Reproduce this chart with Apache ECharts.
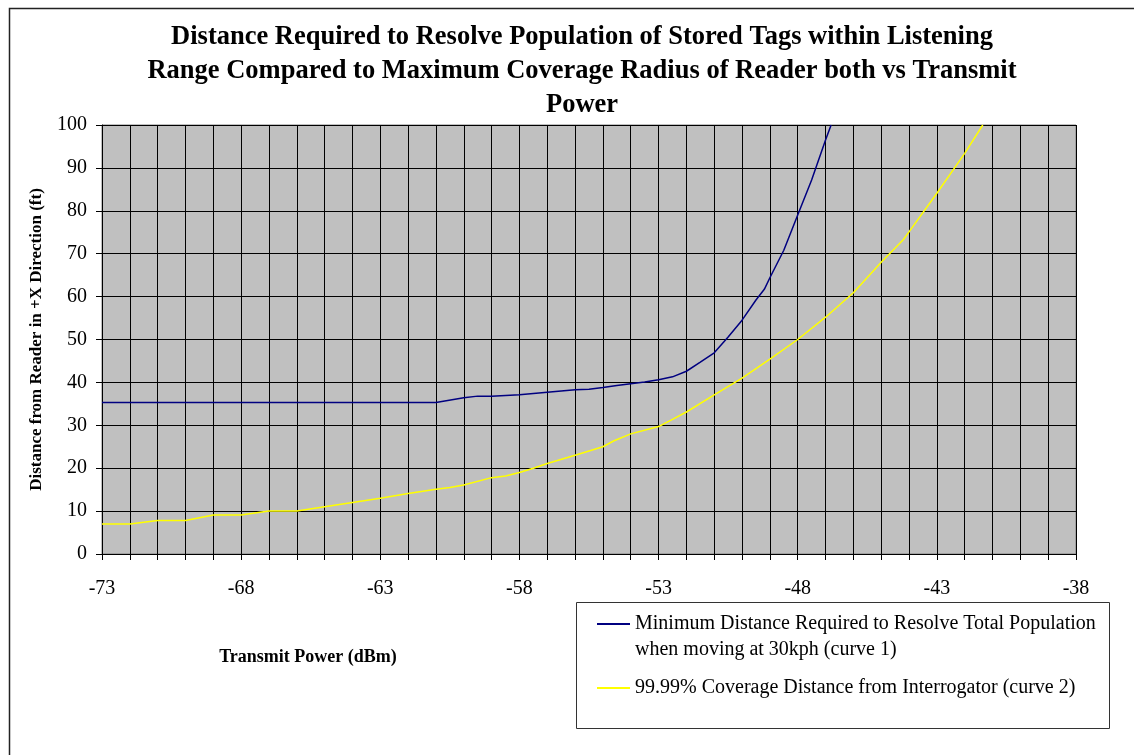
<!DOCTYPE html>
<html>
<head>
<meta charset="utf-8">
<script src="https://cdn.jsdelivr.net/npm/echarts@6/dist/echarts.min.js"></script>
<style>html,body{margin:0;padding:0;background:#fff}#c{width:1134px;height:755px}</style>
</head>
<body>
<div id="c"></div>
<script>
// Curve 1: Minimum distance required (x = transmit power dBm, y = ft)
const curve1X = [-73, -61, -60, -59.5, -59, -58, -57, -56, -55.5, -55, -54.5, -54, -53.5, -53, -52.5, -52, -51.5, -51, -50.5, -50, -49.5, -49.2, -49, -48.5, -48, -47.5, -47, -46.8];
const curve1Y = [35.3, 35.3, 36.4, 36.8, 36.8, 37.1, 37.7, 38.3, 38.4, 38.8, 39.3, 39.7, 40.1, 40.6, 41.3, 42.6, 44.7, 46.9, 50.6, 54.5, 59.2, 61.7, 64.4, 70.8, 79, 87.2, 96.5, 100];
// Curve 2: 99.99% coverage distance
const curve2X = [-73, -72, -71, -70, -69, -68, -67, -66, -65, -64, -63, -62, -61, -60.5, -60, -59, -58.5, -58, -57.5, -57, -56, -55, -54.6, -54, -53, -52.5, -52, -51, -50, -49, -48, -47, -46, -45, -44.2, -44, -43, -42, -41.35];
const curve2Y = [7, 7, 7.8, 7.8, 9.1, 9.1, 10, 10, 11, 12, 13, 14.1, 15.1, 15.5, 16.1, 17.8, 18.2, 19, 20, 21.1, 23, 25, 26.4, 28, 29.7, 31.4, 33.1, 37.1, 41, 45.4, 50, 55.2, 60.9, 68, 73.3, 75.1, 84.1, 93.4, 100];
const seriesNames = ['Minimum Distance Required to Resolve Total Population when moving at 30kph (curve 1)', '99.99% Coverage Distance from Interrogator (curve 2)'];
const xTickLabels = [-73, -68, -63, -58, -53, -48, -43, -38];
const yTickLabels = [0, 10, 20, 30, 40, 50, 60, 70, 80, 90, 100];

const serif = 'Liberation Serif, Times New Roman, serif';
const chart = echarts.init(document.getElementById('c'), null, {renderer: 'canvas'});
const pair = (xs, ys) => xs.map((x, i) => [x, ys[i]]);

chart.setOption({
  animation: false,
  backgroundColor: '#ffffff',
  title: {
    text: 'Distance Required to Resolve Population of Stored Tags within Listening\nRange Compared to Maximum Coverage Radius of Reader both vs Transmit\nPower',
    left: 577, top: 15, textAlign: 'center',
    textStyle: {fontFamily: serif, fontWeight: 'bold', fontSize: 26.5, lineHeight: 34, color: '#000'}
  },
  grid: {
    left: 102, right: 58, top: 125, bottom: 201,
    show: true, backgroundColor: '#c0c0c0', borderColor: '#808080', borderWidth: 1
  },
  xAxis: {
    type: 'value', min: -73, max: -38, interval: 1,
    axisLine: {onZero: false, lineStyle: {color: '#000', width: 1}},
    axisTick: {show: true, length: 6, lineStyle: {color: '#000'}},
    axisLabel: {
      margin: 25, fontFamily: serif, fontSize: 20, color: '#000',
      formatter: v => xTickLabels.indexOf(Math.round(v)) >= 0 ? String(Math.round(v)) : ''
    },
    splitLine: {show: true, lineStyle: {color: '#000', width: 1}}
  },
  yAxis: {
    type: 'value', min: 0, max: 100, interval: 10,
    name: 'Distance from Reader in +X Direction (ft)',
    nameLocation: 'middle', nameGap: 57, nameRotate: 90,
    nameTextStyle: {fontFamily: serif, fontWeight: 'bold', fontSize: 17, color: '#000'},
    axisLine: {show: true, lineStyle: {color: '#000', width: 1}},
    axisTick: {show: true, length: 6, lineStyle: {color: '#000'}},
    axisLabel: {
      margin: 15, fontFamily: serif, fontSize: 20, color: '#000',
      formatter: v => yTickLabels.indexOf(v) >= 0 ? String(v) : ''
    },
    splitLine: {show: true, lineStyle: {color: '#000', width: 1}}
  },
  legend: {
    orient: 'vertical', left: 596, top: 585, padding: 0, itemGap: 12,
    itemWidth: 33, itemHeight: 14,
    itemStyle: {opacity: 0},
    data: [seriesNames[0], seriesNames[1]],
    formatter: n => n === seriesNames[0] ? '\nMinimum Distance Required to Resolve Total Population\nwhen moving at 30kph (curve 1)' : n,
    textStyle: {fontFamily: serif, fontSize: 20, lineHeight: 26, color: '#000'}
  },
  graphic: [
    {type: 'rect', left: 7, top: 6, shape: {x: 0, y: 0, width: 1400, height: 1000}, style: {fill: 'none', stroke: '#222', lineWidth: 1.5}, silent: true},
    {type: 'rect', left: 574, top: 600, shape: {x: 0, y: 0, width: 533, height: 126}, style: {fill: 'none', stroke: '#333', lineWidth: 1}, silent: true, z: 10},
    {type: 'text', x: 308, y: 657, style: {text: 'Transmit Power (dBm)', fontFamily: serif, fontWeight: 'bold', fontSize: 18, fill: '#000', align: 'center', verticalAlign: 'middle'}}
  ],
  series: [
    {name: seriesNames[0], type: 'line', symbol: 'none', data: pair(curve1X, curve1Y), lineStyle: {color: '#000080', width: 1.5}, itemStyle: {color: '#000080'}},
    {name: seriesNames[1], type: 'line', symbol: 'none', data: pair(curve2X, curve2Y), lineStyle: {color: '#ffff00', width: 1.5}, itemStyle: {color: '#ffff00'}}
  ]
});
</script>
</body>
</html>
